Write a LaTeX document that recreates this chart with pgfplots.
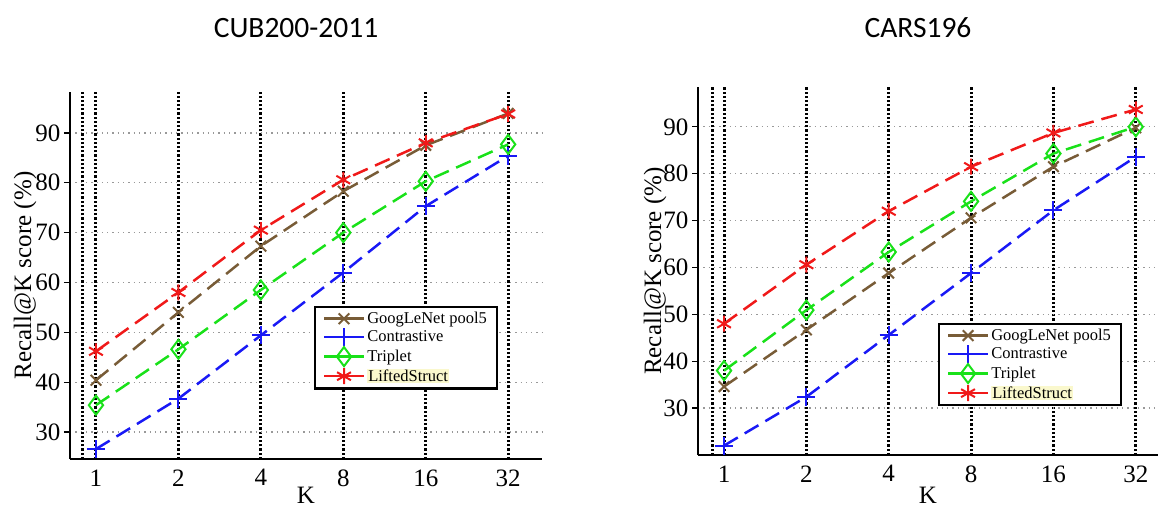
\documentclass[border=0pt]{standalone}
\usepackage{pgfplots}
\pgfplotsset{compat=1.18}
\usepackage{fontspec}
\setmainfont{Liberation Serif}
\newfontfamily\titlefont{Carlito}
\definecolor{gbrown}{RGB}{120,92,55}
\definecolor{cblue}{RGB}{25,25,245}
\definecolor{tgreen}{RGB}{25,225,25}
\definecolor{lred}{RGB}{240,25,25}
\definecolor{hl}{RGB}{250,248,205}
\pgfplotsset{
 myaxis/.style={
  scale only axis,
  axis lines=left,
  axis line style={-, line width=2.5pt, black},
  xtick={0,1,2,3,4,5},
  xticklabels={1,2,4,8,16,32},
  ytick={30,40,...,90},
  xmajorgrids, ymajorgrids,
  major x grid style={black, line width=3pt, dash pattern=on 2.2pt off 2pt},
  major y grid style={gray!80, line width=1.3pt, dash pattern=on 1.3pt off 4pt},
  extra x tick style={grid=major, major grid style={black!85, line width=1.4pt, dash pattern=on 1.4pt off 2.6pt}, major tick length=0pt},
  extra x tick labels={},
  x tick style={draw=none},
  y tick style={black, line width=1.3pt},
  major tick length=6pt,
  tick align=outside,
  xtick pos=bottom, ytick pos=left,
  /pgf/number format/assume math mode=true,
  ticklabel style={font=\fontsize{25}{29}\selectfont},
  xticklabel style={yshift=-1pt},
  label style={font=\fontsize{25}{29}\selectfont},
  ylabel={Recall@K score (\%)},
  xlabel={K},
  ylabel style={at={(axis description cs:0,0.5)}, anchor=center},
  xlabel style={at={(axis description cs:0.5,0)}, anchor=center, inner sep=1pt},
  legend cell align=left,
  legend style={draw=black, line width=2.5pt, font=\fontsize{16.5}{19.5}\selectfont,
    inner xsep=8pt, inner ysep=3pt, row sep=1pt,
    /tikz/every even column/.append style={column sep=5pt}},
  legend image code/.code={\draw[mark repeat=2,mark phase=2,#1,solid] plot coordinates {(0pt,0pt) (20pt,0pt) (40pt,0pt)};},
  every axis plot/.append style={line width=2.5pt, dash pattern=on 16pt off 8pt},
 },
 sg/.style={color=gbrown, mark=x, mark size=7.5pt, mark options={solid, line width=2pt}},
 sc/.style={color=cblue, mark=+, mark size=9pt, mark options={solid, line width=2pt}},
 st/.style={color=tgreen, mark=diamond, mark size=9.5pt, mark options={solid, line width=2pt}},
 sl/.style={color=lred, mark=asterisk, mark size=8pt, mark options={solid, line width=2pt}},
}
\begin{document}
\begin{tikzpicture}
\path[use as bounding box] (0pt,0pt) rectangle (1158pt,-508pt);
\node[font=\titlefont\fontsize{29.5}{34}\selectfont] at (296pt,-28pt) {CUB200-2011};
\node[font=\titlefont\fontsize{29.5}{34}\selectfont] at (918pt,-28pt) {CARS196};
\begin{axis}[myaxis,
  at={(70pt,-459pt)}, anchor=south west,
  width=472pt, height=367pt,
  xmin=-0.315, xmax=5.41, ymin=24.6, ymax=98.2,
  extra x ticks={-0.158},
  ylabel style={yshift=45pt},
  xlabel style={yshift=-36pt},
  legend style={at={(0.907,0.417)}, anchor=north east},
]
\addplot[sg] coordinates {(0,40.4) (1,54.0) (2,67.3) (3,78.3) (4,87.5) (5,93.9)};
\addlegendentry{GoogLeNet pool5}
\addplot[sc] coordinates {(0,26.6) (1,36.7) (2,49.4) (3,62.0) (4,75.3) (5,85.4)};
\addlegendentry{Contrastive}
\addplot[st] coordinates {(0,35.4) (1,46.6) (2,58.5) (3,70.0) (4,80.3) (5,87.7)};
\addlegendentry{Triplet}
\addplot[sl] coordinates {(0,46.2) (1,58.0) (2,70.5) (3,80.6) (4,88.0) (5,93.8)};
\addlegendentry{\setlength{\fboxsep}{1pt}\colorbox{hl}{LiftedStruct}}
\end{axis}
\begin{axis}[myaxis,
  at={(698pt,-455pt)}, anchor=south west,
  width=460pt, height=368pt,
  xmin=-0.316, xmax=5.27, ymin=20, ymax=98.5,
  extra x ticks={-0.146},
  ylabel style={yshift=43pt},
  xlabel style={yshift=-40pt},
  legend style={at={(0.922,0.359)}, anchor=north east},
]
\addplot[sg] coordinates {(0,34.6) (1,46.7) (2,58.8) (3,70.6) (4,81.5) (5,89.8)};
\addlegendentry{GoogLeNet pool5}
\addplot[sc] coordinates {(0,22.0) (1,32.4) (2,45.6) (3,58.8) (4,72.2) (5,83.6)};
\addlegendentry{Contrastive}
\addplot[st] coordinates {(0,38.0) (1,50.9) (2,63.3) (3,74.1) (4,84.3) (5,90.0)};
\addlegendentry{Triplet}
\addplot[sl] coordinates {(0,48.0) (1,60.6) (2,72.0) (3,81.5) (4,88.7) (5,93.7)};
\addlegendentry{\setlength{\fboxsep}{1pt}\colorbox{hl}{LiftedStruct}}
\end{axis}
\end{tikzpicture}
\end{document}
